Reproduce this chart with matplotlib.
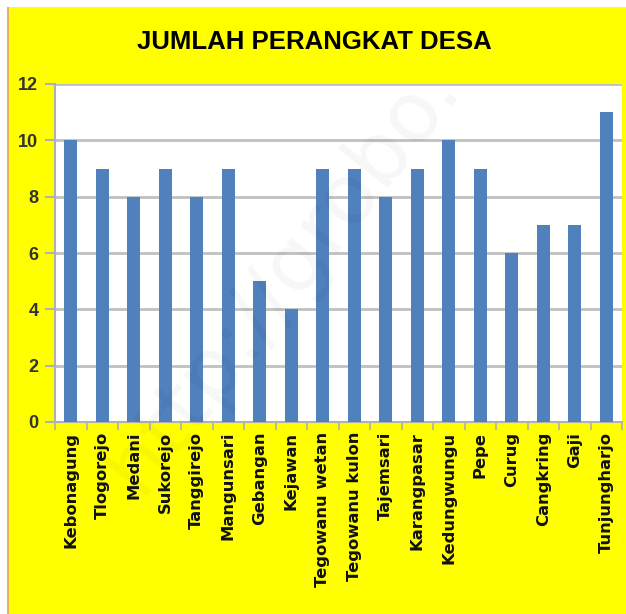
import matplotlib
matplotlib.use("Agg")
import matplotlib.pyplot as plt
from matplotlib.patches import Rectangle
from matplotlib import font_manager
import numpy as np

categories = ["Kebonagung", "Tlogorejo", "Medani", "Sukorejo", "Tanggirejo",
              "Mangunsari", "Gebangan", "Kejawan", "Tegowanu wetan",
              "Tegowanu kulon", "Tajemsari", "Karangpasar", "Kedungwungu",
              "Pepe", "Curug", "Cangkring", "Gaji", "Tunjungharjo"]
values = [10, 9, 8, 9, 8, 9, 5, 4, 9, 9, 8, 9, 10, 9, 6, 7, 7, 11]
yticks = [0, 2, 4, 6, 8, 10, 12]
title = "JUMLAH PERANGKAT DESA"

names = {f.name for f in font_manager.fontManager.ttflist}
narrow = "Liberation Sans Narrow" if "Liberation Sans Narrow" in names else "Liberation Sans"

W, H = 626, 614
fig = plt.figure(figsize=(W / 100, H / 100), dpi=100, facecolor="white")
fig.patches.append(Rectangle((8 / W, 0), 1 - 8 / W, 1 - 7 / H, transform=fig.transFigure,
                             facecolor="#FFFF00", edgecolor="none", zorder=-10))
fig.patches.append(Rectangle((7 / W, 0), 1.5 / W, 1 - 7 / H, transform=fig.transFigure,
                             facecolor="#E8B060", edgecolor="none", zorder=-10))

ax = fig.add_axes([55 / W, 192 / H, 567 / W, 338 / H])
ax.set_facecolor("white")
x = np.arange(len(categories))
ax.bar(x, values, width=0.42, color="#4F81BD", zorder=3)
ax.set_xlim(-0.5, len(categories) - 0.5)
ax.set_ylim(0, 12)
ax.set_yticks(yticks)
ax.set_yticklabels([str(t) for t in yticks], fontsize=13, fontweight="bold",
                   family=narrow, color="#333333")
ax.yaxis.grid(True, color="#C0C0C0", linewidth=2, zorder=1)
ax.set_axisbelow(True)
ax.set_xticks(x)
ax.set_xticklabels(categories, rotation=90, fontsize=11.8, fontweight="bold",
                   family="DejaVu Sans", color="#111111")
ax.tick_params(axis="x", length=0, pad=7)
ax.set_xticks(np.arange(-0.5, len(categories), 1), minor=True)
ax.tick_params(axis="x", which="minor", length=6, color="#B0B0B0", width=1.2)
ax.tick_params(axis="y", length=7, color="#B0B0B0", width=1.5, pad=5)
for s in ["top", "right"]:
    ax.spines[s].set_visible(False)
ax.spines["left"].set_color("#B0B0B0")
ax.spines["left"].set_linewidth(1.5)
ax.spines["bottom"].set_color("#B0B0B0")
ax.spines["bottom"].set_linewidth(1.5)

fig.text(314 / W, 1 - 42 / H, title, ha="center", va="center", fontsize=18.5,
         fontweight="bold", family=narrow, color="black")

# faint watermark
fig.text(0.45, 0.55, "http://grobo.", rotation=52, fontsize=60, color="#000000",
         alpha=0.035, ha="center", va="center", family="DejaVu Sans", zorder=10)

fig.savefig("out.png", dpi=100, facecolor="white")
